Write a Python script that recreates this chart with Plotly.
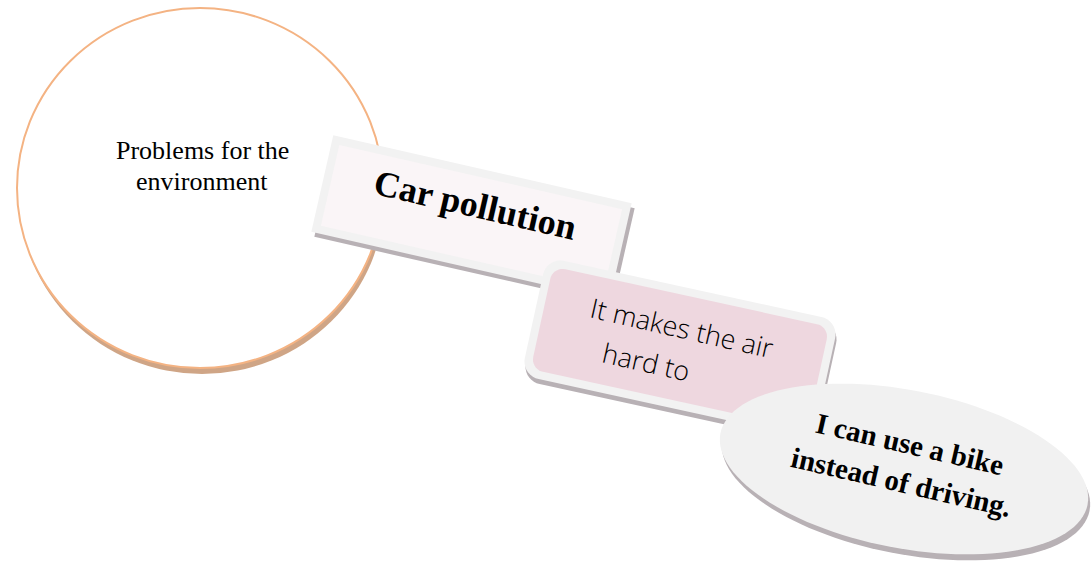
import numpy as np
import plotly.graph_objects as go

# ---- content ----
node_labels = ["Problems for the", "environment", "Car pollution",
               "It makes the air", "hard to", "I can use a bike", "instead of driving."]

# ---- geometry (pixel space, y down) ----
W, H = 1092, 561
circle_box = [17, 8, 383, 368]          # x0, y0, x1, y1
circle_shadow_offset = [2, 6]
car_box = dict(cx=471.5, cy=217.5, w=306, h=99, ang=12.8, r=0, inset=8, shadow=(3, 5))
pink_box = dict(cx=680, cy=348, w=299, h=121, ang=12.3, r=18, inset=8, shadow=(1, 5))
oval = dict(cx=904, cy=469, a=187, b=79, ang=11, shadow=(2, 6))

# text placement: x, y, angle, size
text_pos = [
    (202, 150, 0, 26), (202, 181, 0, 26),
    (475, 205, 13, 36),
    (682, 327, 12.8, 27), (646, 361, 12.8, 27),
    (910, 444, 13, 29), (901, 482, 13, 29),
]

# colours
circle_line = "#f4b383"
circle_shadow = "#cfa586"
frame_grey = "#f2f2f2"
car_fill = "#faf5f7"
pink_fill = "#eed7df"
shadow_grey = "#b8b1b5"
oval_fill = "#f1f1f1"


def rotate(pts, cx, cy, ang):
    t = np.deg2rad(ang)
    c, s = np.cos(t), np.sin(t)
    return [(cx + x * c - y * s, cy + x * s + y * c) for x, y in pts]


def rect_local(w, h, r, n=10):
    if r <= 0:
        return [(-w / 2, -h / 2), (w / 2, -h / 2), (w / 2, h / 2), (-w / 2, h / 2)]
    pts = []
    corners = [((w / 2 - r), -(h / 2 - r), -90, 0),
               ((w / 2 - r), (h / 2 - r), 0, 90),
               (-(w / 2 - r), (h / 2 - r), 90, 180),
               (-(w / 2 - r), -(h / 2 - r), 180, 270)]
    for ccx, ccy, a0, a1 in corners:
        for a in np.linspace(np.deg2rad(a0), np.deg2rad(a1), n):
            pts.append((ccx + r * np.cos(a), ccy + r * np.sin(a)))
    return pts


def to_path(pts):
    return "M " + " L ".join(f"{x:.2f},{y:.2f}" for x, y in pts) + " Z"


def box_shapes(b, fill):
    out = []
    sx, sy = b["shadow"]
    outer = rect_local(b["w"], b["h"], b["r"])
    inner = rect_local(b["w"] - 2 * b["inset"], b["h"] - 2 * b["inset"], max(b["r"] - b["inset"] / 1.5, 0))
    out.append(dict(type="path", path=to_path(rotate(outer, b["cx"] + sx, b["cy"] + sy, b["ang"])),
                    fillcolor=shadow_grey, line=dict(width=0)))
    out.append(dict(type="path", path=to_path(rotate(outer, b["cx"], b["cy"], b["ang"])),
                    fillcolor=frame_grey, line=dict(width=0)))
    out.append(dict(type="path", path=to_path(rotate(inner, b["cx"], b["cy"], b["ang"])),
                    fillcolor=fill, line=dict(width=0)))
    return out


def oval_shapes(o):
    t = np.linspace(0, 2 * np.pi, 120, endpoint=False)
    loc = list(zip(o["a"] * np.cos(t), o["b"] * np.sin(t)))
    sx, sy = o["shadow"]
    return [
        dict(type="path", path=to_path(rotate(loc, o["cx"] + sx, o["cy"] + sy, o["ang"])),
             fillcolor=shadow_grey, line=dict(width=0)),
        dict(type="path", path=to_path(rotate(loc, o["cx"], o["cy"], o["ang"])),
             fillcolor=oval_fill, line=dict(width=0)),
    ]


shapes = []
x0, y0, x1, y1 = circle_box
dx, dy = circle_shadow_offset
shapes.append(dict(type="circle", x0=x0 + dx, y0=y0 + dy, x1=x1 + dx, y1=y1 + dy,
                   fillcolor=circle_shadow, line=dict(width=0)))
shapes.append(dict(type="circle", x0=x0, y0=y0, x1=x1, y1=y1,
                   fillcolor="white", line=dict(color=circle_line, width=2)))
shapes += box_shapes(car_box, car_fill)
shapes += box_shapes(pink_box, pink_fill)
shapes += oval_shapes(oval)

serif = "Liberation Serif, Times New Roman, serif"
sans = "Open Sans, Noto Sans, sans-serif"
fonts = [
    dict(family=serif, color="black"),
    dict(family=serif, color="black"),
    dict(family=serif, color="black", weight="bold"),
    dict(family=sans, color="black", weight=300),
    dict(family=sans, color="black", weight=300),
    dict(family=serif, color="black", weight="bold"),
    dict(family=serif, color="black", weight="bold"),
]

annotations = []
for label, (x, y, ang, size), f in zip(node_labels, text_pos, fonts):
    f = dict(f)
    f["size"] = size
    annotations.append(dict(x=x, y=y, xref="x", yref="y", text=label, showarrow=False,
                            textangle=ang, xanchor="center", yanchor="middle", font=f))

fig = go.Figure()
fig.update_layout(
    width=W, height=H, margin=dict(l=0, r=0, t=0, b=0),
    paper_bgcolor="white", plot_bgcolor="white",
    xaxis=dict(range=[0, W], visible=False, fixedrange=True),
    yaxis=dict(range=[H, 0], visible=False, fixedrange=True),
    shapes=shapes, annotations=annotations, showlegend=False,
)
fig.write_html("out.html", config={"displayModeBar": False},
               post_script="document.body.style.margin='0';document.body.style.overflow='hidden';")
